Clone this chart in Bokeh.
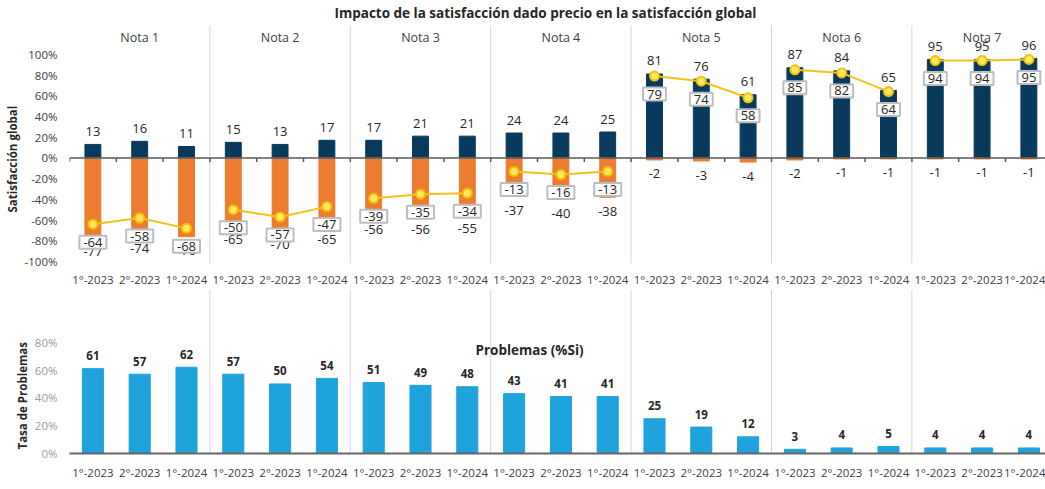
import numpy as np
from bokeh.plotting import figure
from bokeh.models import ColumnDataSource, Range1d, FixedTicker, LabelSet, Label, Span, Title
from bokeh.layouts import column
from bokeh.embed import file_html
from bokeh.resources import INLINE
from bokeh.core.properties import value

# ---------------- data ----------------
notas = ["Nota 1", "Nota 2", "Nota 3", "Nota 4", "Nota 5", "Nota 6", "Nota 7"]
periodos = ["1°-2023", "2°-2023", "1°-2024"]
sat_pos = [13, 16, 11, 15, 13, 17, 17, 21, 21, 24, 24, 25, 81, 76, 61, 87, 84, 65, 95, 95, 96]
sat_neg = [-77, -74, -76, -65, -70, -65, -56, -56, -55, -37, -40, -38, -2, -3, -4, -2, -1, -1, -1, -1, -1]
sat_global = [-64, -58, -68, -50, -57, -47, -39, -35, -34, -13, -16, -13, 79, 74, 58, 85, 82, 64, 94, 94, 95]
problemas = [61, 57, 62, 57, 50, 54, 51, 49, 48, 43, 41, 41, 25, 19, 12, 3, 4, 5, 4, 4, 4]

# ---------------- styles ----------------
FONT = "Open Sans"
NAVY = "#083a5e"
ORANGE = "#ec7c30"
YELLOW = "#f2c318"
BLUE = "#1fa3dc"
SEP = "#d6d6d6"
TXT = "#262626"
W = 1045

n_per = len(periodos)
tick_labels = [p for n in notas for p in periodos]
x = np.arange(len(tick_labels))
x_overrides = {int(i): t for i, t in enumerate(tick_labels)}
group_mid = x[1::n_per]
separators = [k * n_per - 0.5 for k in range(1, len(notas))]
boundaries = np.arange(-0.5, len(tick_labels), 1.0)

x_range = Range1d(-0.5, 20.355)

src = ColumnDataSource(dict(
    x=x, pos=sat_pos, neg=sat_neg, glob=sat_global, prob=problemas,
    pos_t=[str(v) for v in sat_pos], neg_t=[str(v) for v in sat_neg],
    glob_t=[str(v) for v in sat_global], prob_t=[str(v) for v in problemas],
))


def style_y(ax, color):
    ax.axis_line_color = None
    ax.major_tick_line_color = None
    ax.minor_tick_line_color = None
    ax.major_tick_out = 0
    ax.major_tick_in = 0
    ax.minor_tick_out = 0
    ax.minor_tick_in = 0
    ax.major_label_standoff = 12
    ax.major_label_text_font = FONT
    ax.major_label_text_font_size = "11.5px"
    ax.major_label_text_color = color


def style_x(ax, standoff):
    ax.ticker = FixedTicker(ticks=list(x))
    ax.major_label_overrides = x_overrides
    ax.major_tick_line_color = None
    ax.minor_tick_line_color = None
    ax.major_tick_out = 0
    ax.major_tick_in = 0
    ax.minor_tick_out = 0
    ax.minor_tick_in = 0
    ax.major_label_standoff = standoff
    ax.major_label_text_font = FONT
    ax.major_label_text_font_size = "11.5px"
    ax.major_label_text_color = "#404040"


def y_title(fig, text, offset):
    fig.add_layout(Title(text=text, align="left", offset=offset, standoff=4,
                         text_font=FONT, text_font_size="11.5px", text_font_style="bold",
                         text_color=TXT), "left")


# ---------------- top chart ----------------
Y0, Y1 = -101.9, 151.9
p = figure(width=W, height=289, x_range=x_range, y_range=Range1d(Y0, Y1),
           output_backend="svg", toolbar_location=None,
           min_border_left=69, min_border_right=0, min_border_top=0, min_border_bottom=0)
p.grid.visible = False
p.outline_line_color = None

p.segment(x0=separators, y0=[Y0] * len(separators), x1=separators, y1=[127.9] * len(separators),
          line_color=SEP, line_width=1)

p.vbar(x="x", top="pos", bottom=0, width=0.34, color=NAVY, source=src)
p.vbar(x="x", top="neg", bottom=0, width=0.34, color=ORANGE, source=src)

p.add_layout(Span(location=0, dimension="width", line_color="#595959", line_width=1.5))
p.segment(x0=boundaries, y0=[0] * len(boundaries), x1=boundaries, y1=[-4] * len(boundaries),
          line_color="#595959", line_width=1.5)

p.text(x="x", y="neg", text="neg_t", y_offset=14, source=src,
       text_align="center", text_baseline="middle",
       text_font=value(FONT), text_font_size="13px", text_color=TXT)

xs = [list(x[i:i + n_per]) for i in range(0, len(x), n_per)]
ys = [sat_global[i:i + n_per] for i in range(0, len(x), n_per)]
p.multi_line(xs=xs, ys=ys, line_color=YELLOW, line_width=2)
p.scatter(x="x", y="glob", size=9, fill_color="#ffe766", line_color="#f2c200", line_width=2, source=src)

p.text(x="x", y="glob", text="glob_t", y_offset=18, source=src,
       text_align="center", text_baseline="middle",
       text_font=value(FONT), text_font_size="13px", text_color=TXT,
       background_fill_color="white", border_line_color="#bdbdbd",
       border_line_width=2, padding=(4, 2))

p.add_layout(LabelSet(x="x", y="pos", text="pos_t", y_offset=13, source=src,
                      text_align="center", text_baseline="middle",
                      text_font=value(FONT), text_font_size="13px", text_color=TXT))

nota_src = ColumnDataSource(dict(x=group_mid, y=[116.3] * len(notas), t=notas))
p.add_layout(LabelSet(x="x", y="y", text="t", source=nota_src,
                      text_align="center", text_baseline="middle",
                      text_font=value(FONT), text_font_size="12.5px", text_color="#404040"))

p.add_layout(Label(x=9.67, y=139.4, text="Impacto de la satisfacción dado precio en la satisfacción global",
                   text_align="center", text_baseline="middle", text_font=FONT,
                   text_font_size="13.5px", text_font_style="bold", text_color=TXT))

p.yaxis.ticker = FixedTicker(ticks=list(range(-100, 101, 20)))
p.yaxis.major_label_overrides = {v: f"{v}%" for v in range(-100, 101, 20)}
style_y(p.yaxis[0], "#404040")
y_title(p, "Satisfacción global", 51)

style_x(p.xaxis[0], 8)
p.xaxis.axis_line_color = None

# ---------------- bottom chart ----------------
P1 = 117.9
p2 = figure(width=W, height=193, x_range=x_range, y_range=Range1d(0, P1),
            output_backend="svg", toolbar_location=None,
            min_border_left=69, min_border_right=0, min_border_top=0, min_border_bottom=0)
p2.grid.visible = False
p2.outline_line_color = None

p2.segment(x0=separators, y0=[0] * len(separators), x1=separators, y1=[P1] * len(separators),
           line_color=SEP, line_width=1)
p2.vbar(x="x", top="prob", bottom=0, width=0.45, color=BLUE, source=src)
p2.add_layout(LabelSet(x="x", y="prob", text="prob_t", y_offset=13, source=src,
                       text_align="center", text_baseline="middle",
                       text_font=value(FONT), text_font_size="11.5px", text_font_style=value("bold"),
                       text_color=TXT))
p2.add_layout(Label(x=9.33, y=74.3, text="Problemas (%Si)", text_align="center", text_baseline="middle",
                    text_font=FONT, text_font_size="13.5px", text_font_style="bold", text_color=TXT))

p2.yaxis.ticker = FixedTicker(ticks=list(range(0, 81, 20)))
p2.yaxis.major_label_overrides = {v: f"{v}%" for v in range(0, 81, 20)}
style_y(p2.yaxis[0], "#9a9a9a")
y_title(p2, "Tasa de Problemas", 4)

style_x(p2.xaxis[0], 11)
p2.xaxis.axis_line_color = "#666666"
p2.xaxis.axis_line_width = 2

layout = column(p, p2, spacing=0)
open("out.html", "w").write(file_html(layout, INLINE))
